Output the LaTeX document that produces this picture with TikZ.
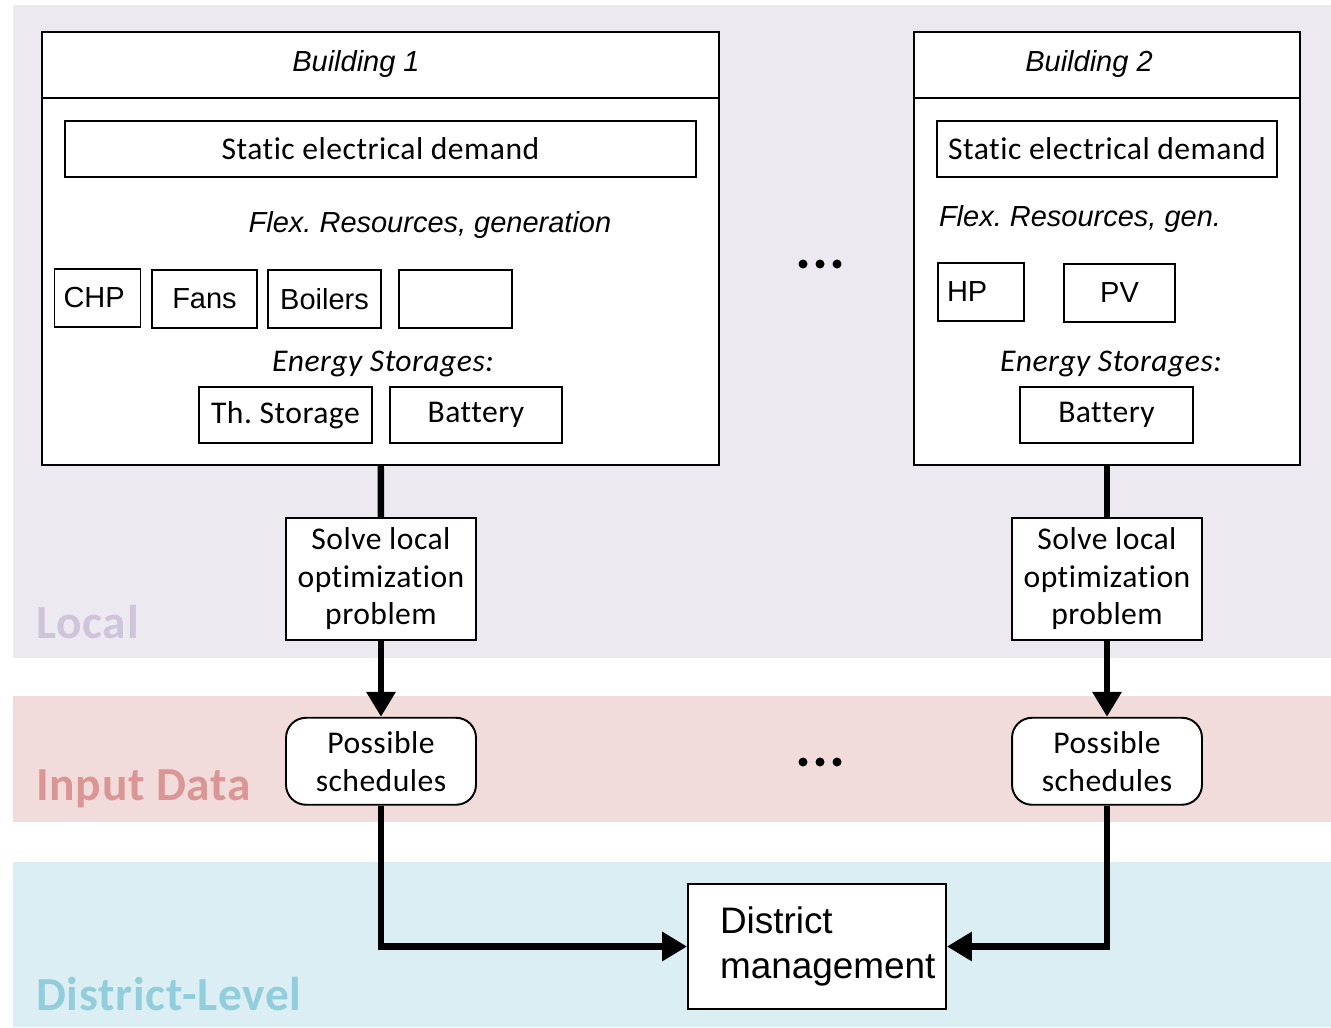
\documentclass[tikz,border=0pt]{standalone}
\usepackage{fontspec}
\setmainfont{Carlito}[Ligatures=NoCommon, LetterSpace=1.5]
\newfontfamily\arialfont{Liberation Sans}
\usetikzlibrary{arrows.meta,positioning}
\frenchspacing

\definecolor{localbg}{RGB}{236,233,241}
\definecolor{localtxt}{RGB}{206,196,220}
\definecolor{inputbg}{RGB}{242,220,219}
\definecolor{inputtxt}{RGB}{218,150,148}
\definecolor{districtbg}{RGB}{219,238,244}
\definecolor{districttxt}{RGB}{146,205,220}

\tikzstyle{building} = [rectangle, draw=black, line width=1.1pt, fill=white]
\tikzstyle{head} = [rectangle, draw=black, line width=1.1pt]
\tikzstyle{title} = [font=\arialfont\itshape\fontsize{16.5}{19}\selectfont]
\tikzstyle{block} = [rectangle, draw=black, line width=1.1pt, fill=white,
                     text centered, inner sep=0pt,
                     font=\fontsize{18}{21.5}\selectfont]
\tikzstyle{unit} = [block, minimum height=1.16cm,
                    font=\arialfont\fontsize{16.5}{19}\selectfont]
\tikzstyle{unitleft} = [unit, text width=1.36cm, inner xsep=0.18cm, align=left]
\tikzstyle{storage} = [block, minimum height=1.12cm]
\tikzstyle{solve} = [block, minimum width=3.8cm, minimum height=2.44cm,
                     align=center, font=\fontsize{18}{21.3}\selectfont]
\tikzstyle{sched} = [block, minimum width=3.8cm, minimum height=1.74cm,
                     rounded corners=0.4cm, align=center,
                     font=\fontsize{18}{21.6}\selectfont]
\tikzstyle{caption} = [font=\itshape\fontsize{18}{21.5}\selectfont]
\tikzstyle{flex} = [font=\arialfont\itshape\fontsize{16.5}{19}\selectfont]
\tikzstyle{level} = [anchor=base west, inner sep=0pt,
                     font=\bfseries\fontsize{27}{30}\selectfont]
\tikzstyle{arrow} = [line width=3.6pt, -{Triangle[length=0.5cm,width=0.56cm]}]
\tikzstyle{line} = [line width=3.6pt]

\begin{document}
\begin{tikzpicture}[x=0.02cm, y=-0.02cm]
  \useasboundingbox (0,0) rectangle (1331,1027);
  %bands
  \fill [localbg] (13,5) rectangle (1331,658);
  \fill [inputbg] (13,696) rectangle (1331,822);
  \fill [districtbg] (13,862) rectangle (1331,1027);
  \node (lvllocal) [level, text=localtxt] at (36,638) {Local};
  \node (lvlinput) [level, text=inputtxt] at (36,800) {Input Data};
  \node (lvldistrict) [level, text=districttxt] at (36,1010) {District-Level};

  % building 1
  \node (b1) [building, minimum width=13.54cm, minimum height=8.66cm]
        at (380.5,248.5) {};
  \node (b1head) [head, minimum width=13.54cm, minimum height=1.32cm,
                  anchor=north] at (b1.north) {};
  \node (b1name) [title] at (356,64) {Building 1};
  \node (dem1) [block, minimum width=12.62cm, minimum height=1.12cm]
        at (380.5,149) {Static electrical demand};
  \node (flex1) [flex] at (430,225) {Flex. Resources, generation};
  \node (chp) [unitleft] at (97.5,298) {CHP};
  \node (fans) [unit, minimum width=2.1cm] at (204.5,299) {Fans};
  \node (boil) [unit, minimum width=2.26cm] at (324.5,299) {Boilers};
  \node (spare) [unit, minimum width=2.26cm] at (455.5,299) {};
  \node (es1) [caption] at (383,364) {Energy Storages:};
  \node (ths) [storage, minimum width=3.46cm] at (285.5,415) {Th. Storage};
  \node (bat1) [storage, minimum width=3.44cm] at (476,415) {Battery};

  % building 2
  \node (b2) [building, minimum width=7.72cm, minimum height=8.66cm]
        at (1107,248.5) {};
  \node (b2head) [head, minimum width=7.72cm, minimum height=1.32cm,
                  anchor=north] at (b2.north) {};
  \node (b2name) [title] at (1089,64) {Building 2};
  \node (dem2) [block, minimum width=6.8cm, minimum height=1.12cm]
        at (1107,149) {Static electrical demand};
  \node (flex2) [flex] at (1080,219) {Flex. Resources, gen.};
  \node (hp) [unitleft] at (981,292) {HP};
  \node (pv) [unit, minimum width=2.22cm] at (1119.5,293) {PV};
  \node (es2) [caption] at (1111,364) {Energy Storages:};
  \node (bat2) [storage, minimum width=3.46cm] at (1106.5,415) {Battery};

  % dots
  \foreach \dx in {-17,0,17} {
    \fill (820+\dx,264) circle [radius=0.09cm];
    \fill (820+\dx,762) circle [radius=0.09cm];
  }

  % optimization and schedules
  \node (solve1) [solve, below=1.02cm of b1.south, anchor=north, xshift=0.01cm]
        {Solve local\\optimization\\problem};
  \node (sched1) [sched, below=1.52cm of solve1] {Possible\\schedules};
  \node (solve2) [solve, below=1.02cm of b2.south, anchor=north]
        {Solve local\\optimization\\problem};
  \node (sched2) [sched, below=1.52cm of solve2] {Possible\\schedules};
  \node (dm) [block, minimum width=5.16cm, minimum height=2.5cm,
              text width=3.88cm, align=left,
              font=\arialfont\fontsize{21}{25.6}\selectfont]
        at (817,946.5) {District\\management};

  %connections
  \draw [line] (b1) -- (solve1);
  \draw [arrow] (solve1) -- (sched1);
  \draw [arrow] (sched1.south) |- (dm.west);
  \draw [line] (b2) -- (solve2);
  \draw [arrow] (solve2) -- (sched2);
  \draw [arrow] (sched2.south) |- (dm.east);
\end{tikzpicture}
\end{document}
